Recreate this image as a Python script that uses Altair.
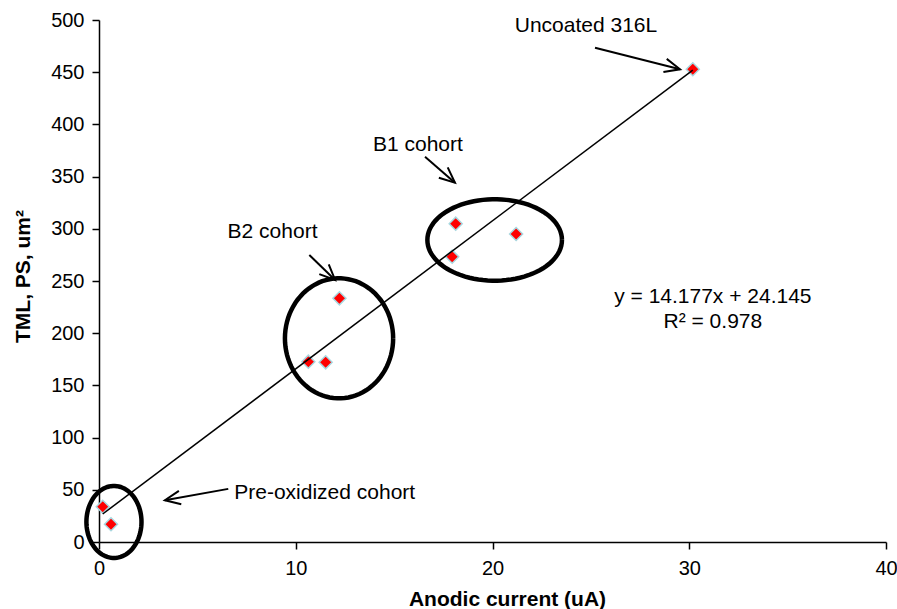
import math
import altair as alt
import pandas as pd

# ---- data ----
x_current = [0.19, 0.61, 10.64, 11.52, 12.22, 17.95, 18.13, 21.20, 30.18]
y_tml = [33.8, 17.0, 172.7, 172.1, 233.4, 273.3, 304.9, 295.0, 452.8]

slope = 14.177
intercept = 24.145

# ellipses (center x, center y, radius x, radius y) in data units
ell_cx = [0.76, 12.20, 20.11]
ell_cy = [19.2, 195.1, 289.3]
ell_rx = [1.40, 2.75, 3.42]
ell_ry = [34.5, 57.5, 39.0]

# arrows: start -> tip in data units
arr_x0 = [25.21, 16.57, 10.69, 6.57]
arr_y0 = [473.5, 369.0, 274.9, 50.9]
arr_x1 = [29.53, 18.09, 12.00, 3.35]
arr_y1 = [452.8, 344.2, 251.0, 40.0]

# annotations
lab_text = ["Uncoated 316L", "B1 cohort", "B2 cohort", "Pre-oxidized cohort"]
lab_x = [24.75, 16.21, 8.82, 11.47]
lab_y = [494.3, 380.3, 297.0, 46.9]

eq_text = ["y = 14.177x + 24.145", "R\u00b2 = 0.978"]
eq_x = [31.2, 31.2]
eq_y = [234.7, 211.0]

W, H = 787, 522
FONT = "Liberation Sans"

xscale = alt.Scale(domain=[0, 40], nice=False, zero=False)
yscale = alt.Scale(domain=[0, 500], nice=False, zero=False)

pts = pd.DataFrame({"x": x_current, "y": y_tml})

xaxis = alt.Axis(
    values=[0, 10, 20, 30, 40], title="Anodic current (uA)", grid=False,
    tickSize=7, tickColor="black", tickWidth=1.5,
    domainColor="black", domainWidth=1.5,
    labelFont=FONT, labelFontSize=20, labelColor="black", labelPadding=9,
    labelFlush=False, labelOverlap=False,
    titleFont=FONT, titleFontSize=21, titleFontWeight="bold", titleColor="black",
    titleX=408, titleY=63, titleBaseline="alphabetic", titleAlign="center",
)
yaxis = alt.Axis(
    values=list(range(0, 501, 50)), title="TML, PS, um\u00b2", grid=False,
    tickSize=7, tickColor="black", tickWidth=1.5,
    domainColor="black", domainWidth=1.5,
    labelFont=FONT, labelFontSize=20, labelColor="black", labelPadding=8,
    labelFlush=False, labelOverlap=False,
    titleFont=FONT, titleFontSize=21, titleFontWeight="bold", titleColor="black",
    titleX=-70, titleY=256, titleAngle=270, titleBaseline="alphabetic", titleAlign="center",
)

points = alt.Chart(pts).mark_point(
    shape="diamond", filled=True, fill="#ff0000", stroke="#a8d8e0",
    strokeWidth=1.5, size=170, opacity=1
).encode(
    x=alt.X("x:Q", scale=xscale, axis=xaxis),
    y=alt.Y("y:Q", scale=yscale, axis=yaxis),
)

xmin, xmax = min(x_current), max(x_current)
trend = pd.DataFrame({"x": [xmin, xmax], "y": [slope * xmin + intercept, slope * xmax + intercept]})
trendline = alt.Chart(trend).mark_line(color="black", strokeWidth=1.5).encode(
    x=alt.X("x:Q", scale=xscale), y=alt.Y("y:Q", scale=yscale)
)

ellipses = []
for cx, cy, rx, ry in zip(ell_cx, ell_cy, ell_rx, ell_ry):
    e = alt.Chart(alt.sequence(0, 364, 4, as_="t")).transform_calculate(
        ex=f"{cx} + {rx} * cos(datum.t * PI / 180)",
        ey=f"{cy} + {ry} * sin(datum.t * PI / 180)",
    ).mark_line(color="black", strokeWidth=4.5).encode(
        x=alt.X("ex:Q", scale=xscale), y=alt.Y("ey:Q", scale=yscale),
        order="t:Q",
    )
    ellipses.append(e)

arr = pd.DataFrame({"x0": arr_x0, "y0": arr_y0, "x1": arr_x1, "y1": arr_y1})
arr["ang"] = [
    math.degrees(math.atan2(-(b1 - b0) * H / 500, (a1 - a0) * W / 40))
    % 360
    for a0, b0, a1, b1 in zip(arr_x0, arr_y0, arr_x1, arr_y1)
]
shafts = alt.Chart(arr).mark_rule(color="black", strokeWidth=2).encode(
    x=alt.X("x0:Q", scale=xscale), y=alt.Y("y0:Q", scale=yscale),
    x2="x1:Q", y2="y1:Q",
)
heads = alt.Chart(arr).mark_point(
    shape="M -1 -0.44 L 0 0 L -1 0.44", filled=False, color="black",
    strokeWidth=2, size=950, opacity=1
).encode(
    x=alt.X("x1:Q", scale=xscale), y=alt.Y("y1:Q", scale=yscale),
    angle=alt.Angle("ang:Q", scale=None),
)

labs = pd.DataFrame({"t": lab_text, "x": lab_x, "y": lab_y})
labels = alt.Chart(labs).mark_text(
    font=FONT, fontSize=21, color="black", align="center", baseline="middle"
).encode(x=alt.X("x:Q", scale=xscale), y=alt.Y("y:Q", scale=yscale), text="t:N")

eqs = pd.DataFrame({"t": eq_text, "x": eq_x, "y": eq_y})
eqlabels = alt.Chart(eqs).mark_text(
    font=FONT, fontSize=21, color="black", align="center", baseline="middle"
).encode(x=alt.X("x:Q", scale=xscale), y=alt.Y("y:Q", scale=yscale), text="t:N")

chart = alt.layer(
    points, trendline, *ellipses, shafts, heads, labels, eqlabels
).properties(
    width=W, height=H,
    autosize=alt.AutoSizeParams(type="none"),
    padding={"left": 99, "top": 20, "right": 11, "bottom": 67},
    background="white",
).configure_view(stroke=None)

chart.save("out.html", embed_options={"renderer": "svg", "actions": False})
